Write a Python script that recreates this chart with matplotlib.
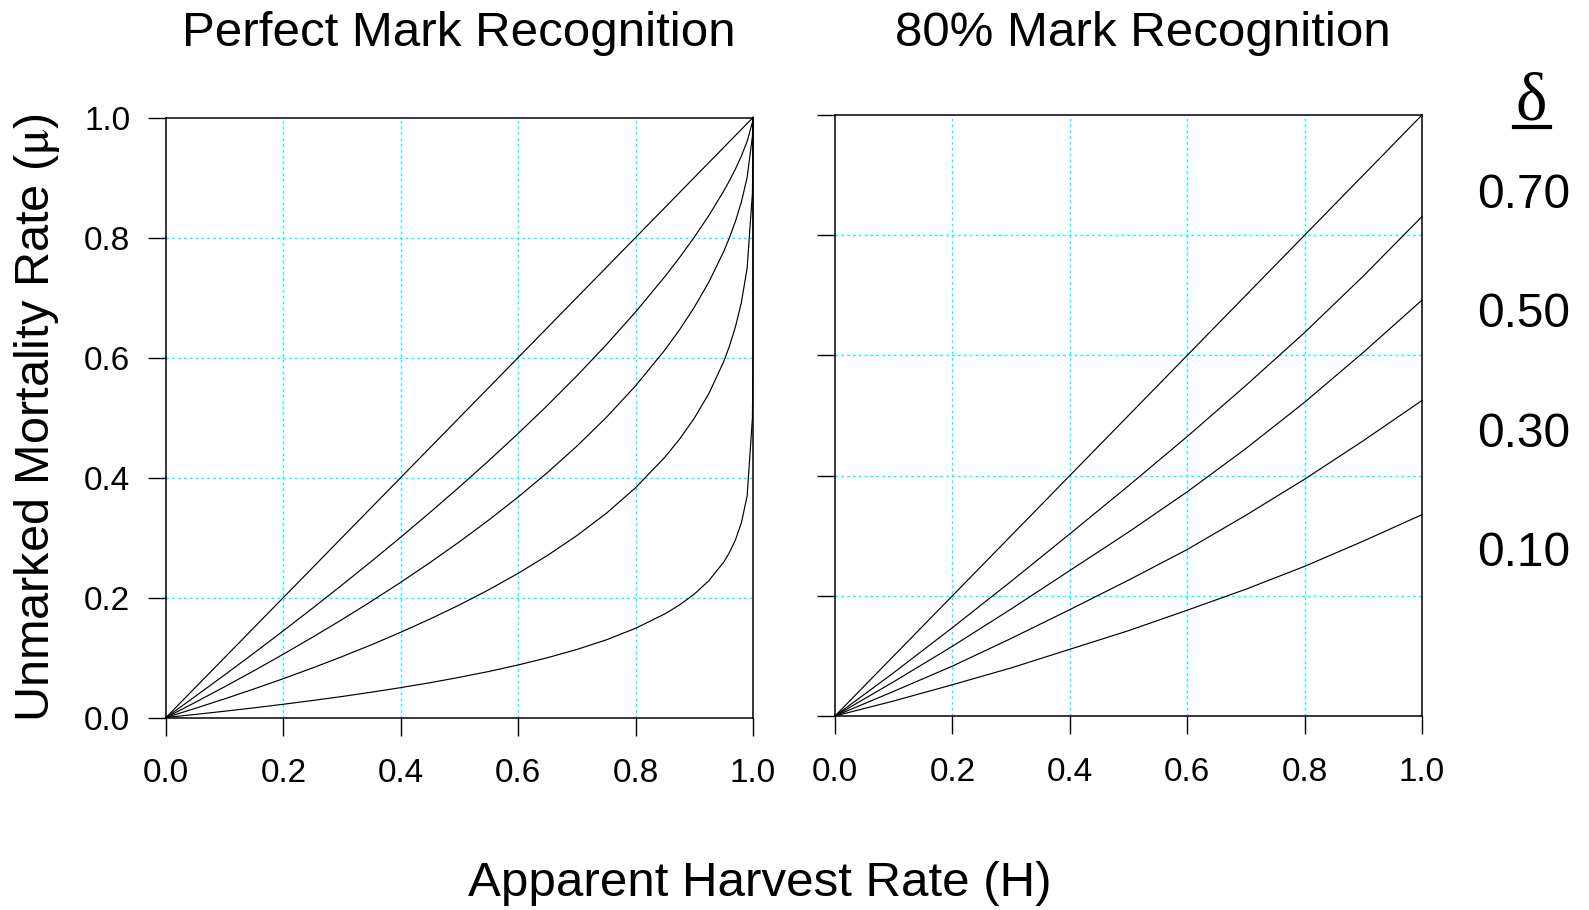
import matplotlib
matplotlib.use('Agg')
import matplotlib.pyplot as plt
from matplotlib.lines import Line2D

# Apparent harvest rate grid for the perfect-recognition panel (dense near 1)
H_PERFECT = [0, 0.05, 0.1, 0.15, 0.2, 0.25, 0.3, 0.35, 0.4, 0.45, 0.5, 0.55,
             0.6, 0.65, 0.7, 0.75, 0.8, 0.85, 0.875, 0.9, 0.925, 0.95, 0.96,
             0.97, 0.98, 0.99, 0.999, 0.9999, 1.0]

# Unmarked mortality rate, perfect mark recognition
MU_PERFECT_100 = H_PERFECT
MU_PERFECT_070 = [0, 0.0353, 0.0711, 0.1075, 0.1446, 0.1824, 0.2210, 0.2603,
                  0.3006, 0.3420, 0.3844, 0.4282, 0.4734, 0.5204, 0.5695,
                  0.6211, 0.6759, 0.7350, 0.7667, 0.8005, 0.8369, 0.8772,
                  0.8949, 0.9141, 0.9353, 0.9602, 0.9921, 0.9984, 1.0]
MU_PERFECT_050 = [0, 0.0253, 0.0513, 0.0780, 0.1056, 0.1340, 0.1633, 0.1938,
                  0.2254, 0.2584, 0.2929, 0.3292, 0.3675, 0.4084, 0.4523,
                  0.5000, 0.5528, 0.6127, 0.6464, 0.6838, 0.7261, 0.7764,
                  0.8000, 0.8268, 0.8586, 0.9000, 0.9684, 0.9900, 1.0]
MU_PERFECT_030 = [0, 0.0153, 0.0311, 0.0476, 0.0648, 0.0827, 0.1015, 0.1212,
                  0.1421, 0.1642, 0.1877, 0.2130, 0.2403, 0.2702, 0.3032,
                  0.3402, 0.3830, 0.4340, 0.4641, 0.4988, 0.5403, 0.5929,
                  0.6193, 0.6508, 0.6908, 0.7488, 0.8741, 0.9369, 1.0]
MU_PERFECT_010 = [0, 0.0051, 0.0105, 0.0161, 0.0221, 0.0284, 0.0350, 0.0422,
                  0.0498, 0.0580, 0.0670, 0.0767, 0.0876, 0.0997, 0.1134,
                  0.1294, 0.1487, 0.1728, 0.1877, 0.2057, 0.2282, 0.2589,
                  0.2752, 0.2958, 0.3238, 0.3690, 0.4988, 0.6019, 1.0]

# 80% mark recognition panel
H_80 = [0, 0.1, 0.2, 0.3, 0.4, 0.5, 0.6, 0.7, 0.8, 0.9, 1.0]
MU_80_100 = [0, 0.1, 0.2, 0.3, 0.4, 0.5, 0.6, 0.7, 0.8, 0.9, 1.0]
MU_80_070 = [0, 0.072, 0.147, 0.224, 0.303, 0.383, 0.465, 0.550, 0.638, 0.732, 0.831]
MU_80_050 = [0, 0.057, 0.116, 0.178, 0.242, 0.306, 0.373, 0.445, 0.522, 0.605, 0.692]
MU_80_030 = [0, 0.041, 0.083, 0.129, 0.177, 0.226, 0.277, 0.334, 0.394, 0.458, 0.525]
MU_80_010 = [0, 0.025, 0.052, 0.080, 0.111, 0.142, 0.176, 0.211, 0.249, 0.291, 0.335]

TICKS = [0, 0.2, 0.4, 0.6, 0.8, 1.0]
TICK_LABELS = ['0.0', '0.2', '0.4', '0.6', '0.8', '1.0']
DELTA_LABELS = ['0.70', '0.50', '0.30', '0.10']

plt.rcParams['font.family'] = ['Liberation Sans', 'DejaVu Sans']
plt.rcParams['mathtext.fontset'] = 'stix'

W, H = 1589, 910


def style_axes(ax, show_ylabels):
    ax.set_xlim(0, 1)
    ax.set_ylim(0, 1)
    ax.set_xticks(TICKS)
    ax.set_xticklabels(TICK_LABELS)
    ax.set_yticks(TICKS)
    ax.set_yticklabels(TICK_LABELS if show_ylabels else [])
    # dotted cyan grid on the inner ticks only, spines stay clean
    for t in TICKS[1:-1]:
        ax.axhline(t, color='cyan', linestyle=(0, (2, 2.2)), linewidth=1.0, zorder=1)
        ax.axvline(t, color='cyan', linestyle=(0, (2, 2.2)), linewidth=1.0, zorder=1)
    ax.tick_params(direction='out', length=13.3, width=1.0, labelsize=24,
                   colors='black')
    ax.tick_params(axis='x', pad=16)
    ax.tick_params(axis='y', pad=12.5)
    for s in ax.spines.values():
        s.set_linewidth(1.1)


def draw_curves(ax, x, curves):
    for mu in curves:
        ax.plot(x, mu, color='black', linewidth=0.85, clip_on=False, zorder=3)


fig = plt.figure(figsize=(W / 100, H / 100), dpi=100)

ax1 = fig.add_axes([166 / W, 1 - 717.5 / H, 587 / W, 600 / H])
ax2 = fig.add_axes([835 / W, 1 - 716 / H, 587 / W, 601 / H])

style_axes(ax1, True)
style_axes(ax2, False)

draw_curves(ax1, H_PERFECT, [MU_PERFECT_100, MU_PERFECT_070, MU_PERFECT_050,
                             MU_PERFECT_030, MU_PERFECT_010])
draw_curves(ax2, H_80, [MU_80_100, MU_80_070, MU_80_050, MU_80_030, MU_80_010])

# panel titles
fig.text(459 / W, 1 - 46.5 / H, 'Perfect Mark Recognition', fontsize=35.5,
         ha='center', va='baseline')
fig.text(1143 / W, 1 - 46.5 / H, '80% Mark Recognition', fontsize=35.5,
         ha='center', va='baseline')

# shared axis labels
fig.text(760 / W, 1 - 896 / H, 'Apparent Harvest Rate (H)', fontsize=35.5,
         ha='center', va='baseline')
fig.text(37 / W, 1 - 418 / H, r'Unmarked Mortality Rate ($\mathrm{\mu}$)',
         fontsize=35, rotation=90, ha='center', va='center')

# delta key on the right
fig.text(1531 / W, 1 - 119 / H, '\u03b4', fontsize=48,
         family=['Liberation Serif', 'DejaVu Serif'], ha='center', va='baseline')
fig.add_artist(Line2D([1514 / W, 1550 / W], [1 - 126.5 / H, 1 - 126.5 / H],
                      color='black', linewidth=3.0))
for i, lab in enumerate(DELTA_LABELS):
    fig.text(1524 / W, 1 - (195 + i * 119.5) / H, lab, fontsize=34.4,
             ha='center', va='center')

plt.savefig('out.png', dpi=100)
